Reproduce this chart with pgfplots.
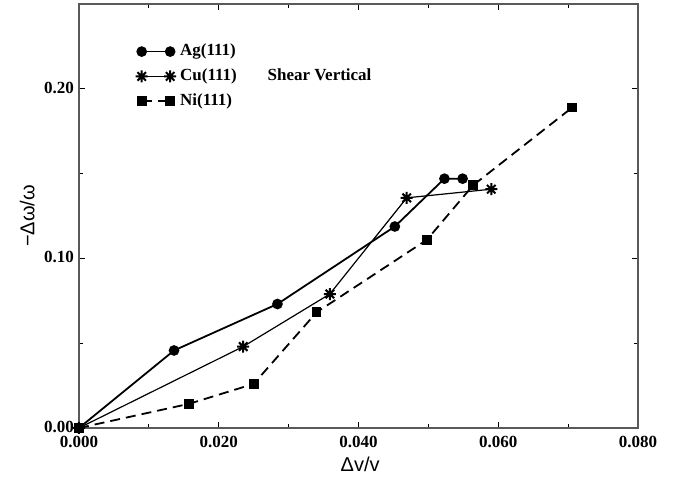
\documentclass[border=0pt]{standalone}
\usepackage{fontspec}
\setmainfont{Liberation Serif}
\newfontfamily\labfont{Liberation Sans}
\usepackage{pgfplots}
\pgfplotsset{compat=1.18}

% eight-armed asterisk like the original's
\pgfdeclareplotmark{ast8}{%
  \pgfpathmoveto{\pgfqpoint{0pt}{\pgfplotmarksize}}\pgfpathlineto{\pgfqpoint{0pt}{-\pgfplotmarksize}}%
  \pgfpathmoveto{\pgfqpoint{\pgfplotmarksize}{0pt}}\pgfpathlineto{\pgfqpoint{-\pgfplotmarksize}{0pt}}%
  \pgfpathmoveto{\pgfqpoint{0.707\pgfplotmarksize}{0.707\pgfplotmarksize}}\pgfpathlineto{\pgfqpoint{-0.707\pgfplotmarksize}{-0.707\pgfplotmarksize}}%
  \pgfpathmoveto{\pgfqpoint{0.707\pgfplotmarksize}{-0.707\pgfplotmarksize}}\pgfpathlineto{\pgfqpoint{-0.707\pgfplotmarksize}{0.707\pgfplotmarksize}}%
  \pgfusepathqstroke}

\begin{document}
\begin{tikzpicture}
	\begin{axis}[
		scale only axis,
		width=279.5pt,
		height=212pt,
		at={(0,0)}, anchor=south west,
		xmin=0, xmax=0.08,
		ymin=0, ymax=0.25,
		scaled x ticks=false,
		scaled y ticks=false,
		xtick={0,0.02,0.04,0.06,0.08},
		minor xtick={0.01,0.03,0.05,0.07},
		ytick={0,0.1,0.2},
		minor ytick={0.05,0.15},
		xticklabels={0.000,0.020,0.040,0.060,0.080},
		yticklabels={0.00,0.10,0.20},
		tick align=inside,
		major tick length=3pt,
		minor tick length=2pt,
		axis line style={black!65, line width=0.8pt},
		every tick/.style={black, line width=0.5pt},
		ticklabel style={font=\fontsize{8.5}{9}\selectfont\bfseries},
		xticklabel style={yshift=-0.5pt},
		yticklabel style={xshift=1pt, yshift=0.5pt},
		xlabel={\labfont $\,$Δv/v},
		ylabel={\labfont −Δω/ω},
		xlabel style={font=\fontsize{10}{11}\selectfont, yshift=2pt},
		ylabel style={font=\fontsize{10}{11}\selectfont, yshift=-2pt},
		legend style={draw=none, fill=none, at={(rel axis cs:0.09,0.925)}, anchor=north west,
			font=\fontsize{8.5}{9}\selectfont\bfseries, row sep=1pt,
			/tikz/every even column/.append style={column sep=2pt}},
		legend cell align=left,
		legend image code/.code={
			\draw[#1] plot coordinates {(0cm,0cm) (0.5cm,0cm)};
		},
	]
	% Ag(111)
	\addplot[black, line width=0.9pt, mark=*, mark size=2.2pt] coordinates {
		(0,0) (0.0136,0.0457) (0.0284,0.0731) (0.0452,0.1188) (0.0523,0.1470) (0.0549,0.1470)
	};
	% Cu(111)
	\addplot[black, line width=0.6pt, mark=ast8, mark size=3pt, mark options={line width=1pt}] coordinates {
		(0,0) (0.0235,0.0480) (0.0359,0.0790) (0.0469,0.1357) (0.0590,0.1408)
	};
	% Ni(111)
	\addplot[black, line width=0.9pt, dash pattern=on 5pt off 3pt, mark=square*, mark size=2pt, mark options={solid}] coordinates {
		(0,0) (0.0158,0.0143) (0.0250,0.0260) (0.0340,0.0682) (0.0498,0.1110) (0.0564,0.1431) (0.0706,0.1890)
	};
	\legend{Ag(111), Cu(111), Ni(111)}
	\node[anchor=west, font=\fontsize{8.5}{9}\selectfont\bfseries] at (rel axis cs:0.325,0.833) {Shear Vertical};
	\end{axis}
	\useasboundingbox (-39.5pt,-22pt) rectangle (300.5pt,214pt);
\end{tikzpicture}
\end{document}
